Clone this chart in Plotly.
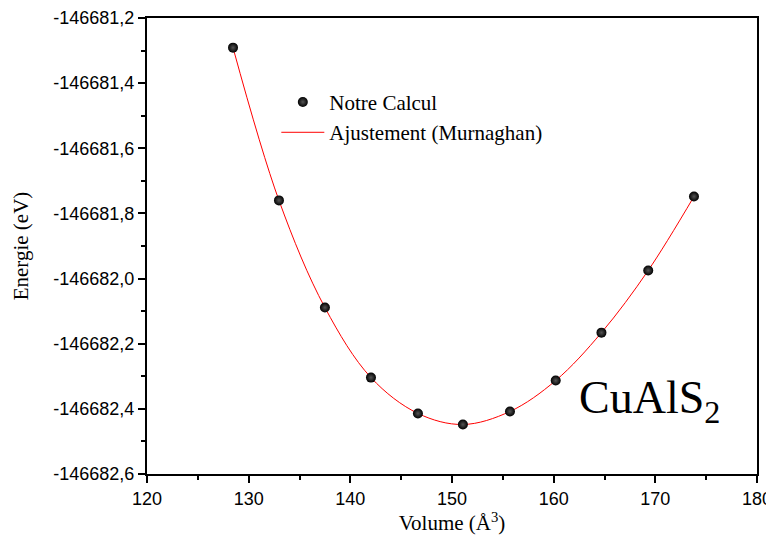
import plotly.graph_objects as go

volume = [128.46, 132.98, 137.50, 142.03, 146.65, 151.07, 155.70, 160.20, 164.70, 169.30, 173.80]
energy = [-146681.291, -146681.760, -146682.089, -146682.304, -146682.414, -146682.448,
          -146682.408, -146682.313, -146682.166, -146681.975, -146681.748]

x_ticks = [120, 130, 140, 150, 160, 170, 180]
y_ticks = [-146681.2, -146681.4, -146681.6, -146681.8, -146682.0, -146682.2, -146682.4, -146682.6]
y_labels = ["-146681,2", "-146681,4", "-146681,6", "-146681,8", "-146682,0", "-146682,2", "-146682,4", "-146682,6"]

SERIF = "Liberation Serif, Times New Roman"
SANS = "Liberation Sans, Arial"

fig = go.Figure()
fig.add_trace(go.Scatter(
    x=volume, y=energy, mode="lines", name="Ajustement (Murnaghan)",
    line=dict(color="red", width=1, shape="spline", smoothing=1.0),
))
fig.add_trace(go.Scatter(
    x=volume, y=energy, mode="markers", name="Notre Calcul",
    marker=dict(color="black", size=10, line=dict(width=0),
                gradient=dict(type="radial", color="#555555")),
))

axis_common = dict(
    showline=True, linecolor="black", linewidth=2, mirror=True,
    ticks="outside", ticklen=7, tickwidth=1.5, tickcolor="black",
    showgrid=False, zeroline=False, automargin=False,
    tickfont=dict(family=SANS, size=18, color="black"),
)

fig.update_layout(
    width=766, height=530,
    margin=dict(l=139, r=17, t=10, b=64),
    paper_bgcolor="white", plot_bgcolor="white",
    separators=", ",
    showlegend=True,
    legend=dict(
        x=0.212, y=0.86, xanchor="left", yanchor="top",
        bgcolor="rgba(0,0,0,0)",
        font=dict(family=SERIF, size=21, color="black"),
        traceorder="reversed", tracegroupgap=0, itemwidth=43,
    ),
    xaxis=dict(
        range=[120, 180], tickvals=x_ticks,
        minor=dict(ticks="outside", ticklen=4, tickwidth=1.5, tickcolor="black", dtick=5, tick0=120),
        title=dict(text="Volume (Å<sup>3</sup>)", standoff=4,
                   font=dict(family=SERIF, size=21, color="black")),
        **axis_common,
    ),
    yaxis=dict(
        range=[-146682.6, -146681.2], tickvals=y_ticks, ticktext=y_labels,
        minor=dict(ticks="outside", ticklen=4, tickwidth=1.5, tickcolor="black", dtick=0.1, tick0=-146682.6),
        title=dict(text="Energie (eV)", standoff=19,
                   font=dict(family=SERIF, size=21, color="black")),
        **axis_common,
    ),
)

fig.add_annotation(
    x=0.705, y=0.16, xref="paper", yref="paper", xanchor="left", yanchor="middle",
    text="CuAlS<sub>2</sub>", showarrow=False,
    font=dict(family=SERIF, size=46, color="black"),
)

fig.write_html("out.html")
